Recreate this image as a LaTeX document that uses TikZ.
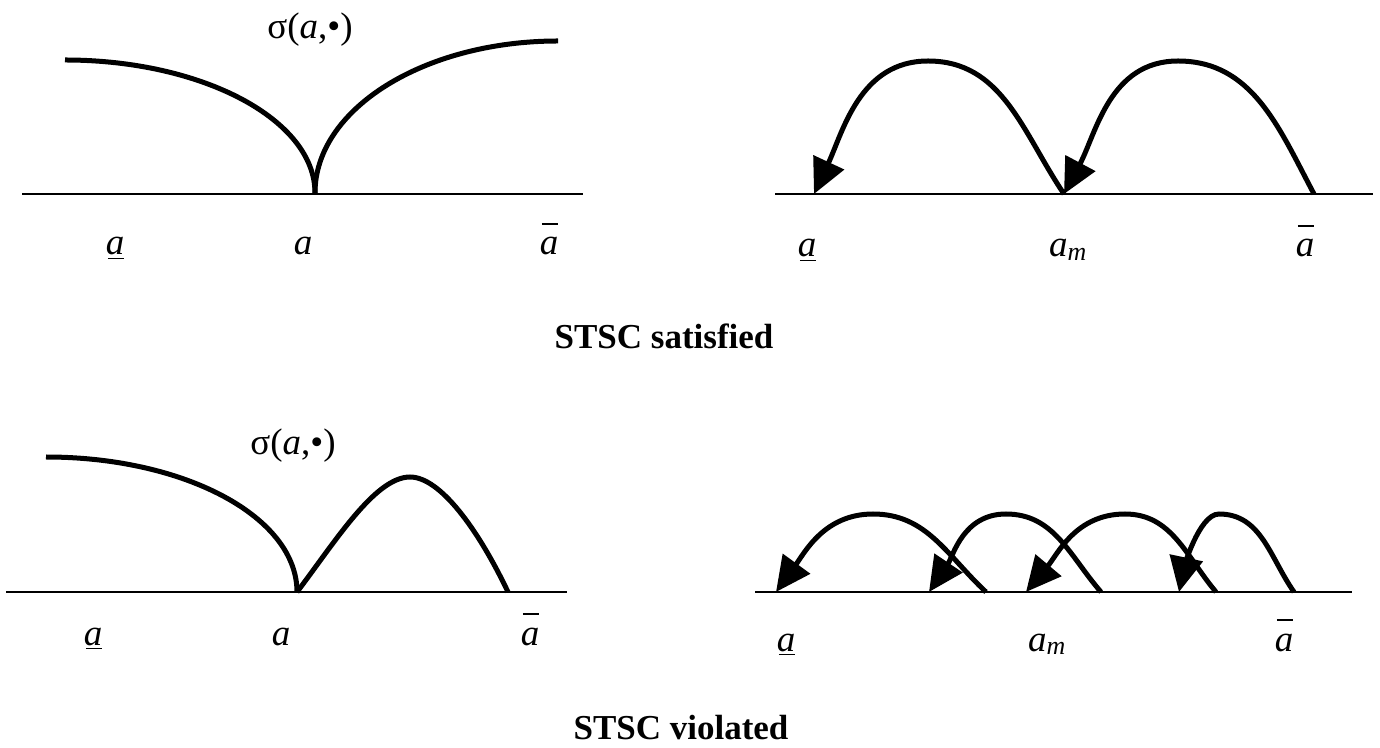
\documentclass[tikz,border=0pt]{standalone}
\usepackage{fontspec}
\setmainfont{Liberation Serif}
\usetikzlibrary{arrows.meta}

\newcommand{\loa}{\textit{a}\llap{\rule[-0.12em]{0.42em}{0.05em}\kern0.02em}}
\newcommand{\upa}{\textit{a}\llap{\rule[0.82em]{0.42em}{0.05em}\kern0.02em}}
\newcommand{\ama}{\textit{a}\textsubscript{\textit{m}}}

\begin{document}
\begin{tikzpicture}[x=1pt,y=1pt,
    axis/.style={line width=1.7pt},
    curve/.style={line width=5pt},
    jump/.style={line width=5pt,-{Triangle[length=35pt,width=33pt]}},
    lbl/.style={anchor=base,inner sep=0pt,font=\fontsize{37}{40}\selectfont},
    title/.style={anchor=base,inner sep=0pt,font=\fontsize{35}{40}\selectfont\bfseries}]
\useasboundingbox (0,0) rectangle (1380,747);

% top left
\draw[axis] (22,553) -- (583,553);
\draw[curve] (65,687) .. controls (203,687) and (315,627) .. (315,554);
\draw[curve] (315,554) .. controls (315,638) and (424,706) .. (558,706);
\node[lbl] (s1) at (310,708) {σ(\textit{a},•)};
\node[lbl] (lo1) at (115,492) {\loa};
\node[lbl] (a1) at (303,492) {\textit{a}};
\node[lbl] (hi1) at (549,492) {\upa};

% top right
\draw[axis] (775,553) -- (1373,553);
\coordinate (lo) at (814,553);
\coordinate (am) at (1064,553);
\coordinate (hi) at (1314,553);
\coordinate (p1) at (928,686);
\coordinate (p2) at (1178,686);
\draw[jump] (am) to[out=124,in=0] (p1) to[out=180,in=65] (lo);
\draw[jump] (hi) to[out=118,in=0] (p2) to[out=180,in=62] (am);
\node[lbl] (lo2) at (807,490) {\loa};
\node[lbl,anchor=base west] (am2) at (1049,490) {\ama};
\node[lbl] (hi2) at (1305,490) {\upa};

\node[title] (ok) at (664,398) {STSC satisfied};

% bottom left
\draw[axis] (6,155) -- (567,155);
\draw[curve] (46,290) .. controls (185,290) and (297,230) .. (297,155);
\draw[curve] (297,155) .. controls (335,205) and (375,270) .. (410,270)
    .. controls (440,270) and (478,218) .. (508,155);
\node[lbl] (s2) at (293,292) {σ(\textit{a},•)};
\node[lbl] (lo3) at (93,102) {\loa};
\node[lbl] (a3) at (281,102) {\textit{a}};
\node[lbl] (hi3) at (530,102) {\upa};

% bottom right
\draw[axis] (755,155) -- (1352,155);
\coordinate (t1) at (776,155);
\coordinate (t2) at (929,155);
\coordinate (t3) at (1026,155);
\coordinate (t4) at (1179,155);
\coordinate (f1) at (986,155);
\coordinate (f2) at (1101,155);
\coordinate (f3) at (1216,155);
\coordinate (f4) at (1294,155);
\coordinate (q1) at (873,233);
\coordinate (q2) at (1006,233);
\coordinate (q3) at (1125,233);
\coordinate (q4) at (1219,233);
\draw[jump] (f1) to[out=137,in=0] (q1) to[out=180,in=54] (t1);
\draw[jump] (f2) to[out=131,in=0] (q2) to[out=180,in=56] (t2);
\draw[jump] (f3) to[out=130,in=0] (q3) to[out=180,in=50] (t3);
\draw[jump] (f4) to[out=125,in=0] (q4) to[out=180,in=78,looseness=0.6] (t4);
\node[lbl] (lo4) at (786,96) {\loa};
\node[lbl,anchor=base west] (am4) at (1028,96) {\ama};
\node[lbl] (hi4) at (1284,96) {\upa};

\node[title] (bad) at (681,8) {STSC violated};
\end{tikzpicture}
\end{document}
